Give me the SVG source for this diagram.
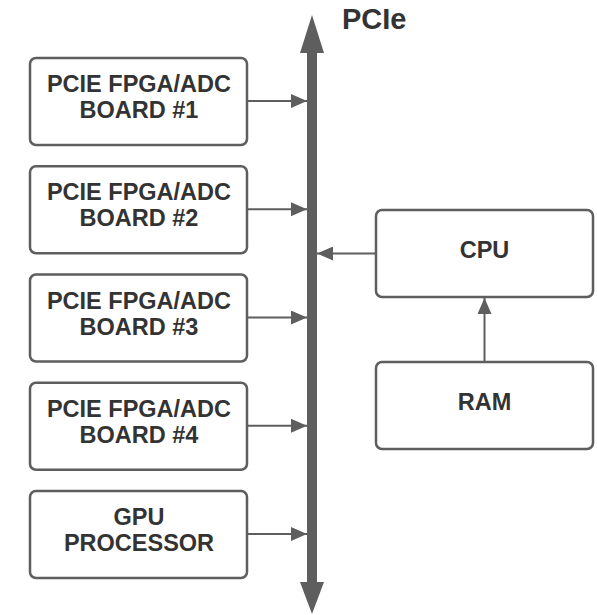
<svg xmlns="http://www.w3.org/2000/svg" width="597" height="615" viewBox="0 0 597 615">
<defs>
<style>
.box{fill:#fff;stroke:#5e5e5e;stroke-width:2.5}
.lbl{font-family:"Liberation Sans",Arial,sans-serif;font-weight:bold;font-size:23.5px;fill:#333;text-anchor:middle}
.conn{stroke:#5e5e5e;stroke-width:2;fill:none}
</style>
<marker id="ah" viewBox="0 0 16 14" markerWidth="16" markerHeight="14" refX="16" refY="7" orient="auto" markerUnits="userSpaceOnUse">
<path d="M0,0 L16,7 L0,14 Z" fill="#5e5e5e"/>
</marker>
</defs>
<rect width="597" height="615" fill="#fff"/>
<g id="bus">
<rect x="307" y="52" width="10" height="532" fill="#5e5e5e"/>
<polygon points="312,15 324,53 300,53" fill="#5e5e5e"/>
<polygon points="312,614 324,582 300,582" fill="#5e5e5e"/>
<text x="342" y="29" class="lbl" style="text-anchor:start;font-size:29px">PCIe</text>
</g>
<g id="board1">
<rect class="box" x="30" y="58" width="217" height="87" rx="6"/>
<text class="lbl" x="139" y="92">PCIE FPGA/ADC</text>
<text class="lbl" x="139" y="118">BOARD #1</text>
</g>
<g id="board2">
<rect class="box" x="30" y="166.25" width="217" height="87" rx="6"/>
<text class="lbl" x="139" y="200.25">PCIE FPGA/ADC</text>
<text class="lbl" x="139" y="226.25">BOARD #2</text>
</g>
<g id="board3">
<rect class="box" x="30" y="274.5" width="217" height="87" rx="6"/>
<text class="lbl" x="139" y="308.5">PCIE FPGA/ADC</text>
<text class="lbl" x="139" y="334.5">BOARD #3</text>
</g>
<g id="board4">
<rect class="box" x="30" y="382.75" width="217" height="87" rx="6"/>
<text class="lbl" x="139" y="416.75">PCIE FPGA/ADC</text>
<text class="lbl" x="139" y="442.75">BOARD #4</text>
</g>
<g id="gpu">
<rect class="box" x="30" y="491" width="217" height="87" rx="6"/>
<text class="lbl" x="139" y="525">GPU</text>
<text class="lbl" x="139" y="551">PROCESSOR</text>
</g>
<g id="cpu">
<rect class="box" x="376" y="210" width="217" height="87" rx="6"/>
<text class="lbl" x="484.5" y="258">CPU</text>
</g>
<g id="ram">
<rect class="box" x="376" y="362" width="217" height="87" rx="6"/>
<text class="lbl" x="484.5" y="410">RAM</text>
</g>
<g id="connectors">
<line class="conn" x1="248" y1="101" x2="307" y2="101" marker-end="url(#ah)"/>
<line class="conn" x1="248" y1="209.25" x2="307" y2="209.25" marker-end="url(#ah)"/>
<line class="conn" x1="248" y1="317.5" x2="307" y2="317.5" marker-end="url(#ah)"/>
<line class="conn" x1="248" y1="425.75" x2="307" y2="425.75" marker-end="url(#ah)"/>
<line class="conn" x1="248" y1="534" x2="307" y2="534" marker-end="url(#ah)"/>
<line class="conn" x1="375" y1="253.5" x2="317" y2="253.5" marker-end="url(#ah)"/>
<line class="conn" x1="484.5" y1="361" x2="484.5" y2="298" marker-end="url(#ah)"/>
</g>
</svg>
